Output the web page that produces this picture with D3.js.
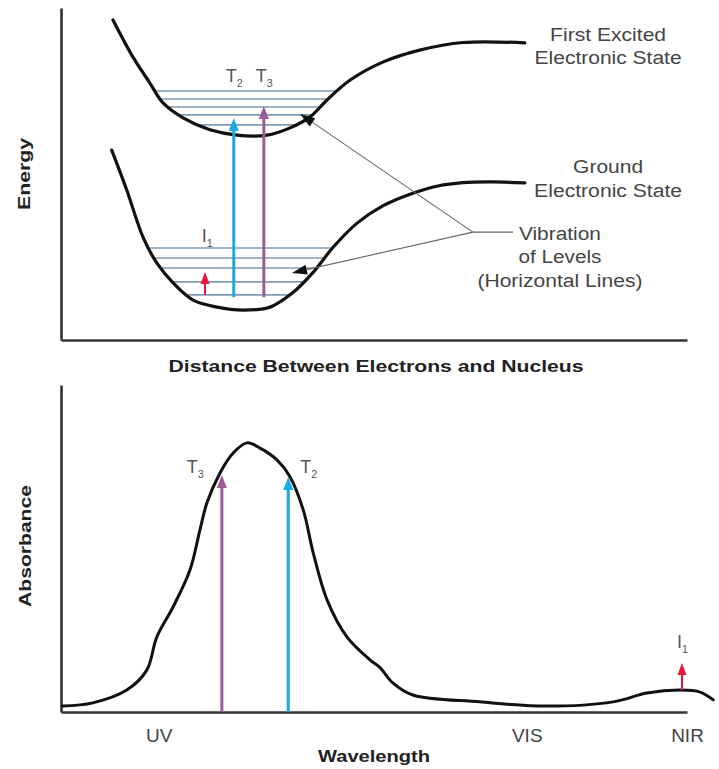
<!DOCTYPE html>
<html><head><meta charset="utf-8">
<script src="https://cdn.jsdelivr.net/npm/d3@7"></script>
<style>body{margin:0;background:#fff}svg{display:block}</style>
</head><body><svg id="c" width="719" height="769"></svg>
<script>
// ---------- DATA (top panel: potential energy curves) ----------
const excitedDistance = [8.3,11.5,14.2,16.3,19.5,23.8,28.1,32.9,36.6,39.8,42.5,46.2,51.4,57.3,64.2,74.1];
const excitedEnergy   = [96.4,85.2,77.4,71.4,66.9,63.3,61.7,61.7,63.9,67.2,72.3,78.3,83.7,87.3,89.6,89.5];
const groundDistance  = [8.1,10.5,13.1,15.3,17.9,21.1,24.9,29.1,33.4,37.0,40.2,43.5,47.3,51.4,56.2,60.2,64.2,69.0,74.1];
const groundEnergy    = [57.2,45.2,31.0,23.2,17.2,12.0,9.9,9.0,9.9,14.2,20.2,28.0,35.2,40.4,44.2,46.4,47.4,47.6,47.3];
const excitedLevels   = [64.8,67.8,70.2,72.6,75.0];
const groundLevels    = [13.6,17.5,21.7,24.7,27.7];
const topTransNames   = ["T","T","I"];
const topTransSubs    = ["2","3","1"];
const topTransDist    = [27.6,32.4,23.0];
const topTransFrom    = [12.9,12.9,13.6];
const topTransTo      = [66.9,70.5,20.5];
const topTransColors  = ["#19a9e1","#9c5b94","#e5173f"];
const topTransLabelX  = [26.3,31.1,22.5];
const topTransLabelY  = [77.7,77.7,29.5];
const stateLabels     = ["First Excited","Electronic State","Ground","Electronic State"];
const stateLabelY     = [90.1,83.1,50.3,43.1];
const vibLabels       = ["Vibration","of Levels","(Horizontal Lines)"];
const vibLabelY       = [30.1,23.2,16.0];

// ---------- DATA (bottom panel: absorbance spectrum) ----------
const wavelength = [0.2,5.1,10.5,13.7,15.3,17.9,20.6,22.2,23.3,25.4,27.5,29.7,31.8,34.5,36.6,38.7,40.3,42.5,45.7,49.4,51.0,53.0,56.2,66.9,77.6,88.2,93.6,98.9,102.1,104.2];
const absorbance = [1.8,2.8,6.7,12.8,22.9,32.1,43.4,55.7,63.9,73.1,79.2,82.3,80.7,77.1,71.9,61.8,48.6,34.3,22.9,15.9,13.5,8.9,5.2,3.1,1.8,3.1,5.8,6.7,6.1,3.7];
const bandNames = ["UV","VIS","NIR"];
const bandWavelength = [15.6,74.4,100.0];
const peakNames  = ["T","T","I"];
const peakSubs   = ["3","2","1"];
const peakWave   = [25.7,36.3,99.2];
const peakBase   = [0,0,6.7];
const peakTop    = [72.5,71.9,15.0];
const peakColors = ["#9c5b94","#19a9e1","#e5173f"];
const peakLabelX = [20.1,38.2,98.4];
const peakLabelY = [73.1,73.1,19.6];

// ---------- DRAW ----------
const svg = d3.select("#c");
const FONT = "'Liberation Sans', Arial, Helvetica, sans-serif";
const xT = d3.scaleLinear().domain([0,100]).range([61,687]);
const yT = d3.scaleLinear().domain([0,100]).range([340,8]);
const xB = d3.scaleLinear().domain([0,100]).range([61,687]);
const yB = d3.scaleLinear().domain([0,100]).range([712,385]);

function styleAxis(g){
  g.select(".domain").attr("stroke","#333").attr("stroke-width",2.6);
  g.selectAll(".tick line").remove();
}
// axes top
svg.append("g").attr("transform",`translate(0,${yT(0)})`)
  .call(d3.axisBottom(xT).tickValues([]).tickSizeOuter(0)).call(styleAxis);
svg.append("g").attr("transform",`translate(${xT(0)},0)`)
  .call(d3.axisLeft(yT).tickValues([]).tickSizeOuter(0)).call(styleAxis);
// axes bottom
const bx = svg.append("g").attr("transform",`translate(0,${yB(0)})`)
  .call(d3.axisBottom(xB).tickValues(bandWavelength).tickFormat((d,i)=>bandNames[i]).tickSize(0).tickSizeOuter(0))
  .call(styleAxis);
bx.selectAll(".tick text").attr("y",30).attr("dy",0).attr("font-size",19)
  .attr("font-family",FONT).attr("fill","#444");
svg.append("g").attr("transform",`translate(${xB(0)},0)`)
  .call(d3.axisLeft(yB).tickValues([]).tickSizeOuter(0)).call(styleAxis);

// level crossing helper
function crossings(xs, ys, e){
  const out=[];
  for(let i=0;i<xs.length-1;i++){
    const a=ys[i]-e, b=ys[i+1]-e;
    if(a*b<=0 && a!==b){ out.push(xs[i]+(xs[i+1]-xs[i])*(a/(a-b))); }
  }
  return [d3.min(out), d3.max(out)];
}
const levelColor = "#7d9db3";
function drawLevels(levels, xs, ys){
  levels.forEach(e=>{
    const [a,b]=crossings(xs,ys,e);
    svg.append("line").attr("x1",xT(a)).attr("x2",xT(b)).attr("y1",yT(e)).attr("y2",yT(e))
      .attr("stroke",levelColor).attr("stroke-width",1.6);
  });
}
drawLevels(excitedLevels, excitedDistance, excitedEnergy);
drawLevels(groundLevels, groundDistance, groundEnergy);

function vArrow(x, y0, y1, color, sw, hw, hl){
  svg.append("line").attr("x1",x).attr("x2",x).attr("y1",y0).attr("y2",y1+hl-1)
    .attr("stroke",color).attr("stroke-width",sw);
  svg.append("path").attr("d",`M${x},${y1}L${x-hw/2},${y1+hl}L${x+hw/2},${y1+hl}Z`).attr("fill",color);
}
function sub(x,y,main,s,size,color){
  const t=svg.append("text").attr("x",x).attr("y",y).attr("font-family",FONT)
    .attr("font-size",size).attr("fill",color);
  t.append("tspan").text(main);
  t.append("tspan").attr("font-size",size*0.6).attr("dy",size*0.28).text(s);
}

// curves top
const lineT = (xs,ys)=>d3.line().x((d,i)=>xT(xs[i])).y((d,i)=>yT(ys[i])).curve(d3.curveCatmullRom.alpha(0.5))(xs);
svg.append("path").attr("d",lineT(excitedDistance,excitedEnergy)).attr("fill","none")
  .attr("stroke","#111").attr("stroke-width",3.2).attr("stroke-linecap","round");
svg.append("path").attr("d",lineT(groundDistance,groundEnergy)).attr("fill","none")
  .attr("stroke","#111").attr("stroke-width",3.2).attr("stroke-linecap","round");

// transitions top
topTransDist.forEach((d,i)=>{
  const red = i===2;
  vArrow(xT(d), yT(topTransFrom[i]), yT(topTransTo[i]), topTransColors[i], red?2:3, red?9:10, red?12:13);
  sub(xT(topTransLabelX[i]), yT(topTransLabelY[i]), topTransNames[i], topTransSubs[i], 18, "#555");
});

// leader lines
const junction = [65.8,32.5];
const leaderTips = [[38.2,68.1],[36.9,20.2]];
leaderTips.forEach(t=>{
  const x0=xT(junction[0]), y0=yT(junction[1]), x1=xT(t[0]), y1=yT(t[1]);
  const ang=Math.atan2(y1-y0,x1-x0), hl=15, hw=5;
  const bx_=x1-hl*Math.cos(ang), by_=y1-hl*Math.sin(ang);
  svg.append("line").attr("x1",x0).attr("y1",y0).attr("x2",bx_).attr("y2",by_)
    .attr("stroke","#666").attr("stroke-width",1.1);
  svg.append("path").attr("d",`M${x1},${y1}L${bx_-hw*Math.sin(ang)},${by_+hw*Math.cos(ang)}L${bx_+hw*Math.sin(ang)},${by_-hw*Math.cos(ang)}Z`).attr("fill","#111");
});
svg.append("line").attr("x1",xT(junction[0])).attr("y1",yT(junction[1]))
  .attr("x2",xT(72.2)).attr("y2",yT(junction[1])).attr("stroke","#666").attr("stroke-width",1.1);

// state labels
const stateWidths=[116,147,70,148];
stateLabels.forEach((s,i)=>{
  svg.append("text").attr("x",xT(87.4)).attr("y",yT(stateLabelY[i])).attr("text-anchor","middle")
    .attr("font-family",FONT).attr("font-size",18).attr("fill","#444")
    .attr("textLength",stateWidths[i]).attr("lengthAdjust","spacingAndGlyphs").text(s);
});
const vibWidths=[82,83,165];
vibLabels.forEach((s,i)=>{
  svg.append("text").attr("x",xT(79.7)).attr("y",yT(vibLabelY[i])).attr("text-anchor","middle")
    .attr("font-family",FONT).attr("font-size",18).attr("fill","#444")
    .attr("textLength",vibWidths[i]).attr("lengthAdjust","spacingAndGlyphs").text(s);
});

// axis titles
function title(x,y,txt,len,rot){
  const t=svg.append("text").attr("font-family",FONT).attr("font-weight","bold").attr("font-size",16)
    .attr("fill","#222").attr("text-anchor","middle").attr("textLength",len)
    .attr("lengthAdjust","spacingAndGlyphs").text(txt);
  if(rot) t.attr("transform",`translate(${x},${y}) rotate(-90)`);
  else t.attr("x",x).attr("y",y);
}
title(376,372,"Distance Between Electrons and Nucleus",415,false);
title(30,174,"Energy",72,true);
title(31,546,"Absorbance",122,true);
title(374,762,"Wavelength",112,false);

// spectrum
const lineB = d3.line().x((d,i)=>xB(wavelength[i])).y((d,i)=>yB(absorbance[i])).curve(d3.curveCatmullRom.alpha(0.5));
svg.append("path").attr("d",lineB(wavelength)).attr("fill","none")
  .attr("stroke","#111").attr("stroke-width",3).attr("stroke-linecap","round");

peakWave.forEach((w,i)=>{
  const red = i===2;
  vArrow(xB(w), yB(peakBase[i]), yB(peakTop[i]), peakColors[i], red?2:3, red?9:10, red?12:13);
  sub(xB(peakLabelX[i]), yB(peakLabelY[i]), peakNames[i], peakSubs[i], 18, "#555");
});
</script></body></html>
